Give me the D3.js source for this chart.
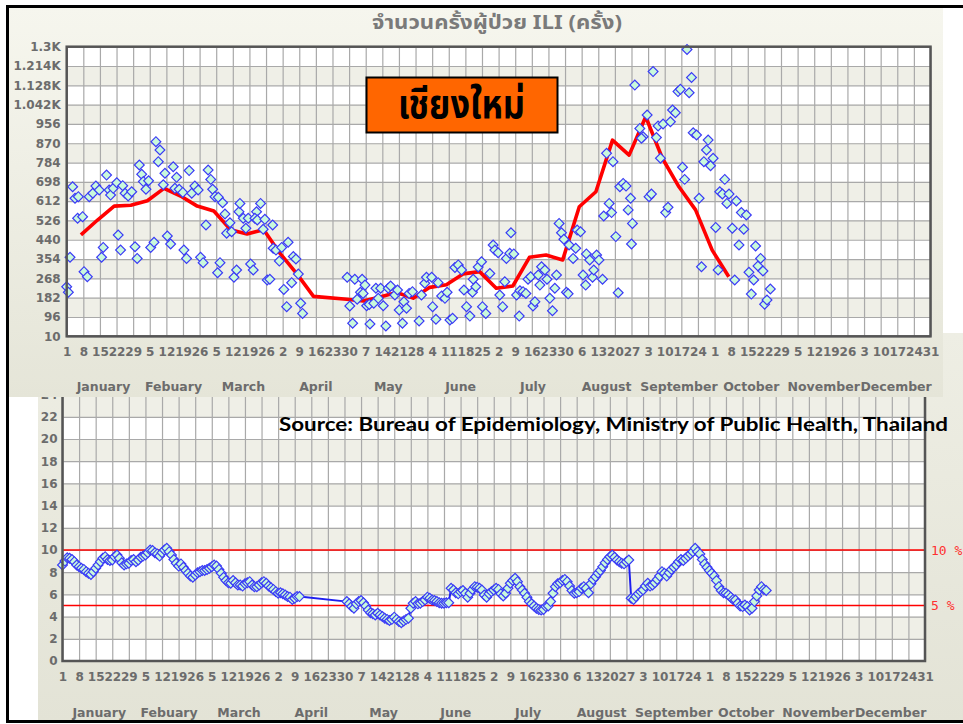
<!DOCTYPE html>
<html><head><meta charset="utf-8">
<script src="https://cdn.jsdelivr.net/npm/d3@7"></script>
<style>
html,body{margin:0;padding:0;background:#fff;}
svg{display:block;}
</style></head><body>
<svg id="chart" width="963" height="724"></svg>
<script>
// ---------------- DATA ----------------
const months = ["January","Febuary","March","April","May","June","July","August","September","October","November","December"];
const iliTicks = [10,96,182,268,354,440,526,612,698,784,870,956,1042,1128,1214,1300];
const pctTicks = [0,2,4,6,8,10,12,14,16,18,20,22,24];
const thresholds = [10,5];
const thresholdLabels = ["10 %","5 %"];
const chartTitle = "จำนวนครั้งผู้ป่วย ILI (ครั้ง)";
const provinceName = "เชียงใหม่";
const sourceText = "Source: Bureau of Epidemiology, Ministry of Public Health, Thailand";

// daily ILI visits: [day of year (0 = Jan 1), count]
const dailyILI = [
[0,231],[0.7,206],[1.4,362],[2.5,676],[3.5,625],[4.9,632],[4.6,536],[6.7,543],[7.3,298],[8.7,275],
[9.5,632],[11,647],[12.3,679],[13.7,662],[14.7,362],[15.4,406],[16.8,728],[17.9,662],[18.5,639],[19.6,669],
[21.1,694],[21.7,461],[22.7,394],[23.6,681],[24.6,647],[25.9,635],[27.4,654],[28.8,409],[29.7,357],[30.6,773],
[31.6,732],[32.3,699],[33.4,665],[34.5,703],[35.4,406],[36.8,429],[37.6,877],[38.6,788],[39.3,840],[40.7,685],
[41.4,736],[42.4,457],[43.8,421],[44.9,765],[45.6,669],[46.3,718],[47.4,665],[48.9,651],[49.4,394],[50.5,357],
[51.6,748],[52.7,647],[54,679],[55.4,662],[56.4,362],[57.5,338],[58.7,506],[59.6,751],[60.7,709],[61.5,665],
[62.5,632],[63.9,629],[63.6,293],[64.6,338],[65.7,605],[66.7,555],[67.4,469],[68.8,516],[69.5,476],[70.5,273],
[71.6,305],[72.6,565],[73,602],[74.4,536],[75.5,491],[76.5,536],[77.5,332],[78.6,305],
[80,565],[79.3,536],[80.3,528],[81.7,602],[83.5,531],[82.8,487],[86.8,506],[84.5,261],[85.6,264],[87,402],
[88.2,394],[90.6,406],[93.3,429],[89.6,345],[91.5,219],[94.8,249],[95.5,365],[96.6,354],[97.6,287],[92.7,142],
[98.6,157],[99.4,112],
[118.2,273],[119.3,145],[120.5,68],[121.4,264],[122.4,175],[123.8,206],[124.5,264],[125.7,238],[124.9,201],[126.4,146],
[127.5,152],[127.8,65],[129.4,157],[130.3,224],[131.3,179],[132.3,224],[133.4,146],[134.5,56],[135.5,224],[136.5,234],
[138.3,194],[139.4,216],[140.1,127],[141.5,68],[142.1,164],[143.2,135],[144.3,201],[145.7,209],[148.5,78],[149.5,194],
[150.9,246],[151.6,273],[153.8,273],[154.2,142],[156.5,249],[155.6,86],[158,190],
[159.4,179],[160.3,206],[161.5,83],[162.6,90],[163.6,317],[165,328],[166.4,305],[167.4,216],[168.5,142],[169.9,100],
[171,206],[171.3,264],[172.4,231],[173.4,319],[174.8,342],[175.2,142],[176.6,112],[178.3,290],[179.7,417],[180.4,394],
[181.8,382],[182.5,194],[183.7,142],[184.6,253],[185.3,357],[186.7,380],[188.4,377],[187.2,471],[189.6,194],[191,213],
[192.3,209],[193.5,201],[190.7,100],[194.4,264],[195.5,275],[196.5,145],[197.3,164],[198.7,283],[199.4,238],[200.1,320],
[201.5,305],[202.4,264],[203.6,179],[204.7,124],[205.7,224],[206.4,283],[207.5,513],[208.5,471],[209.5,442],[210.6,206],
[211.3,199],[211.7,417],[213.4,357],[214.5,402],[215.1,483],[216.5,476],[217.6,283],[218.7,238],[219,377],[220.4,350],
[221.6,273],[222.1,305],[223.3,372],[224.3,350],[225.8,264],[226.3,546],[227.5,825],[228.6,602],[229.6,561],[230.2,788],
[231.4,454],[232.4,204],[233.1,676],[234.5,691],[235.7,679],[236.6,573],[237.6,625],[238.4,513],[238,421],[239.4,1129],
[241.5,936],[242.9,899],[242.2,892],[244.6,996],[245.4,632],[246.4,644],[247.1,1189],[248.5,895],[250.2,803],[249.2,947],
[251.3,956],[254.4,966],[255.3,1018],[256.5,1006],[252.4,561],[253.4,585],[257.6,1100],[258.6,1110],[262.3,1095],[261.4,1288],
[263.3,1163],[259.5,763],[260.4,709],[264,917],[265.4,907],[266.5,625],[267.5,320],[270.3,884],[269.6,840],[268.5,788],
[272.4,803],[271.3,770],[273.5,495],[274.5,305],[277.3,709],[275.2,654],[276.3,644],[279.1,644],[278.2,602],[282.2,613],
[280.5,491],[281.5,261],[284.3,561],[286.4,550],[285.3,487],[283.3,417],[287.5,295],[289.5,261],[288.5,198],[290.3,412],
[291.3,323],[292.4,357],[293.4,301],[296.5,221],[294.1,153],[295.1,172]
];

// weekly (current year) ILI line
const weeklyDays = [6,13,20,27,34,41,48,55,62,69,76,83,90,97,104,118,125,132,139,146,153,160,167,174,181,188,195,202,209,216,223,230,237,244,251,258,265,272,279];
const weeklyILI  = [462,528,590,594,614,669,635,590,568,485,466,485,378,288,188,175,167,185,205,180,228,240,288,298,224,234,362,372,350,587,654,884,817,988,803,676,573,394,275];

// daily ILI percentage, from Jan 1 and from May 1
const pctJanApr = [
8.65,9.0,9.3,9.25,9.15,8.95,8.65,8.5,8.35,8.25,
8.05,7.9,7.8,8.05,8.35,8.65,8.95,9.25,9.4,9.15,
9.05,9.1,9.4,9.55,9.25,8.85,8.65,8.75,8.8,9.05,
9.15,8.95,9.1,9.35,9.45,9.55,9.75,10.0,9.95,9.75,
9.65,9.45,9.75,10.0,10.15,9.85,9.55,9.15,8.8,8.55,
8.75,8.45,8.15,7.9,7.65,7.55,7.75,7.95,8.05,8.15,
8.15,8.25,8.35,8.5,8.65,8.55,8.25,7.9,7.55,7.25,
7.05,7.0,7.25,7.05,6.85,6.85,6.75,6.95,7.05,7.15,
6.85,6.7,6.7,6.85,7.05,7.15,7.0,6.75,6.6,6.45,
6.25,6.1,6.15,6.05,5.95,5.8,5.75,5.55,5.65,5.8,
5.8];
const pctMayOct = [
5.35,5.15,4.9,4.75,5.15,5.35,5.45,5.25,4.95,4.6,
4.35,4.25,4.15,4.3,4.15,4.0,3.85,3.75,3.65,3.75,
3.95,3.75,3.55,3.45,3.6,3.75,3.85,4.75,5.2,5.35,
5.15,5.2,5.35,5.5,5.75,5.65,5.5,5.45,5.35,5.25,
5.2,5.2,5.25,5.25,6.55,6.4,6.15,6.05,6.25,6.35,
6.1,5.75,6.1,6.45,6.7,6.65,6.55,6.4,5.95,5.75,
6.05,6.25,6.4,6.55,6.45,6.05,5.85,6.1,6.55,7.0,
7.25,7.45,7.15,6.7,6.4,6.1,5.75,5.35,5.15,4.95,
4.75,4.65,4.6,4.65,4.9,4.95,5.35,6.1,6.7,6.95,
7.05,7.25,7.35,7.15,6.75,6.35,6.1,6.15,6.25,6.55,
6.7,6.55,6.15,6.95,7.35,7.6,7.9,8.15,8.5,8.85,
9.15,9.4,9.55,9.35,9.1,8.95,8.8,8.75,8.95,9.1,
5.65,5.55,5.8,6.05,6.25,6.4,6.75,7.0,6.75,6.85,
7.05,7.35,7.65,8.05,7.9,7.65,7.95,8.25,8.45,8.65,
8.95,9.15,9.05,9.25,9.45,9.65,9.85,10.15,9.85,9.65,
9.15,8.75,8.45,8.15,7.9,7.65,7.25,6.7,6.35,6.15,
6.1,5.95,5.75,5.55,5.5,5.2,4.95,4.9,5.05,4.9,
4.6,4.75,5.35,5.85,6.4,6.7,6.45,6.35];
const pctJanAprStart = 0, pctMayOctStart = 120;

// ---------------- DRAWING ----------------
const svg = d3.select("#chart");
const axisFont = "'DejaVu Sans', Verdana, sans-serif";
const thaiFont = "Tahoma, 'Noto Sans Thai', Loma, Garuda, 'Norasi', sans-serif";
const labelColor = "#6c6c6c";
const gridColor = "#a9a9a9";
const bandColor = "#efefe7";
const frameColor = "#555";
const ptFill = "#c9f9dc", ptStroke = "#3b3bf6";

const start = new Date(2007,0,1), end = new Date(2007,11,31);
const dayDate = d => new Date(start.getTime() + d*864e5);
const mondays = d3.timeMonday.range(start, new Date(2008,0,1));
const monthMid = months.map((m,i)=> new Date((new Date(2007,i,1).getTime() + new Date(2007,i+1,1).getTime())/2));

const defs = svg.append("defs");
function grad(id, c0, c1){
  const g = defs.append("linearGradient").attr("id",id).attr("x1",0).attr("y1",0).attr("x2",0).attr("y2",1);
  g.append("stop").attr("offset","0%").attr("stop-color",c0);
  g.append("stop").attr("offset","100%").attr("stop-color",c1);
}
grad("gTop","#f6f6ee","#e5e5d8");
grad("gBot","#eeeee4","#e3e3d6");

svg.append("rect").attr("width",963).attr("height",724).attr("fill","#fff");

function plotBase(g, o){
  const x = d3.scaleTime().domain([start,end]).range([o.left,o.right]);
  const y = d3.scaleLinear().domain([o.ticks[0], o.ticks[o.ticks.length-1]]).range([o.bottom,o.top]);
  g.append("g").selectAll("rect").data(d3.pairs(o.ticks)).join("rect")
    .attr("x",o.left).attr("width",o.right-o.left)
    .attr("y",d=>y(d[1])).attr("height",d=>y(d[0])-y(d[1]))
    .attr("fill",(d,i)=> i%2 ? bandColor : "#ffffff");
  g.append("g").attr("transform",`translate(0,${o.bottom})`)
    .call(d3.axisBottom(x).tickValues(mondays).tickSize(-(o.bottom-o.top)).tickFormat(""))
    .call(a=>a.select(".domain").remove())
    .call(a=>a.selectAll("line").attr("stroke",gridColor).attr("stroke-width",1.2));
  g.append("g").attr("transform",`translate(${o.left},0)`)
    .call(d3.axisLeft(y).tickValues(o.ticks).tickSize(-(o.right-o.left)).tickFormat(""))
    .call(a=>a.select(".domain").remove())
    .call(a=>a.selectAll("line").attr("stroke",gridColor).attr("stroke-width",1.2));
  return {x,y};
}
function plotLabels(g, o, x, y, fmt){
  g.append("g").attr("transform",`translate(${o.left},0)`)
    .call(d3.axisLeft(y).tickValues(o.ticks).tickFormat(fmt).tickSize(0).tickPadding(o.yPad))
    .call(a=>a.select(".domain").remove())
    .call(a=>a.selectAll("text").attr("font-family",axisFont).attr("font-size",12).attr("font-weight","bold").attr("fill",labelColor));
  g.append("g").attr("transform",`translate(0,${o.bottom})`)
    .call(d3.axisBottom(x).tickValues(mondays).tickFormat(d=>d.getDate()).tickSize(0).tickPadding(11))
    .call(a=>a.select(".domain").remove())
    .call(a=>a.selectAll("text").attr("font-family",axisFont).attr("font-size",12).attr("font-weight","bold").attr("fill",labelColor));
  g.append("g").selectAll("text").data(months).join("text")
    .attr("x",(d,i)=>x(monthMid[i])).attr("y",o.monthY).attr("dy","0.35em")
    .attr("text-anchor","middle").attr("font-family",axisFont).attr("font-size",12.5)
    .attr("font-weight","bold").attr("fill",labelColor).text(d=>d);
}
const diamond = d3.symbol(d3.symbolSquare, 48);

// ---------- bottom panel (percentage) ----------
const gB = svg.append("g");
gB.append("rect").attr("x",38).attr("y",333).attr("width",925).attr("height",390).attr("fill","url(#gBot)");
const oB = {left:62.5,right:925,bottom:661,top:394.6,ticks:pctTicks,yPad:5,monthY:712.5};
const sB = plotBase(gB,oB);
gB.append("g").selectAll("line").data(thresholds).join("line")
  .attr("x1",oB.left).attr("x2",oB.right).attr("y1",d=>sB.y(d)).attr("y2",d=>sB.y(d))
  .attr("stroke","#ff0000").attr("stroke-width",1.6);
const pctPoints = pctJanApr.map((v,i)=>[pctJanAprStart+i,v]).concat(pctMayOct.map((v,i)=>[pctMayOctStart+i,v]));
gB.append("path").datum(pctPoints)
  .attr("d",d3.line().x(d=>sB.x(dayDate(d[0]))).y(d=>sB.y(d[1])))
  .attr("fill","none").attr("stroke","#1f1ff0").attr("stroke-width",2);
gB.append("g").selectAll("path").data(pctPoints).join("path")
  .attr("d",diamond).attr("transform",d=>`translate(${sB.x(dayDate(d[0]))},${sB.y(d[1])}) rotate(45)`)
  .attr("fill",ptFill).attr("stroke",ptStroke).attr("stroke-width",1.2);
gB.append("path").attr("d",`M${oB.left},${oB.top}V${oB.bottom}H${oB.right}V${oB.top}`)
  .attr("fill","none").attr("stroke",frameColor).attr("stroke-width",2.5);
plotLabels(gB,oB,sB.x,sB.y,d=>d);
gB.append("g").selectAll("text").data(thresholds).join("text")
  .attr("x",931).attr("y",d=>sB.y(d)).attr("dy","0.35em")
  .attr("font-family","'DejaVu Sans Mono', monospace").attr("font-size",13).attr("fill","#ff3030")
  .text((d,i)=>thresholdLabels[i]);
gB.append("text").attr("x",279).attr("y",430.5).attr("textLength",669).attr("lengthAdjust","spacingAndGlyphs")
  .attr("font-family","Lato, 'Open Sans', sans-serif").attr("font-weight",700).attr("font-size",19.5)
  .attr("fill","#000").text(sourceText);

// ---------- top panel (counts) ----------
const gT = svg.append("g");
gT.append("rect").attr("x",8).attr("y",7).attr("width",935).attr("height",390).attr("fill","url(#gTop)");
const oT = {left:66.7,right:930.5,bottom:336.3,top:46.7,ticks:iliTicks,yPad:6,monthY:386.7};
const sT = plotBase(gT,oT);
const weeklyPts = weeklyDays.map((d,i)=>[d,weeklyILI[i]]);
gT.append("path").datum(weeklyPts)
  .attr("d",d3.line().x(d=>sT.x(dayDate(d[0]))).y(d=>sT.y(d[1])))
  .attr("fill","none").attr("stroke","#ff0000").attr("stroke-width",3.6).attr("stroke-linejoin","round");
gT.append("g").selectAll("path").data(dailyILI).join("path")
  .attr("d",diamond).attr("transform",d=>`translate(${sT.x(dayDate(d[0]))},${sT.y(d[1])}) rotate(45)`)
  .attr("fill",ptFill).attr("stroke",ptStroke).attr("stroke-width",1.2);
gT.append("rect").attr("x",oT.left).attr("y",oT.top).attr("width",oT.right-oT.left).attr("height",oT.bottom-oT.top)
  .attr("fill","none").attr("stroke",frameColor).attr("stroke-width",2.5);
plotLabels(gT,oT,sT.x,sT.y,v=> v>=1000 ? `${v/1000}K` : `${v}`);
gT.append("text").attr("x",372).attr("y",29).attr("textLength",250).attr("lengthAdjust","spacingAndGlyphs")
  .attr("font-family",thaiFont).attr("font-weight","bold").attr("font-size",19).attr("fill","#7a7a7a")
  .text(chartTitle);
gT.append("rect").attr("x",366.5).attr("y",77.5).attr("width",191).attr("height",55)
  .attr("fill","#ff6600").attr("stroke","#000").attr("stroke-width",2);
gT.append("text").attr("x",398).attr("y",118).attr("textLength",127).attr("lengthAdjust","spacingAndGlyphs")
  .attr("font-family",thaiFont).attr("font-weight","bold").attr("font-size",40).attr("fill","#000")
  .text(provinceName);

// ---------- outer black frame ----------
svg.append("path").attr("d","M7.5,722V6.5H963").attr("fill","none").attr("stroke","#000").attr("stroke-width",3);
svg.append("line").attr("x1",6).attr("x2",963).attr("y1",721.5).attr("y2",721.5).attr("stroke","#000").attr("stroke-width",3);
</script></body></html>
